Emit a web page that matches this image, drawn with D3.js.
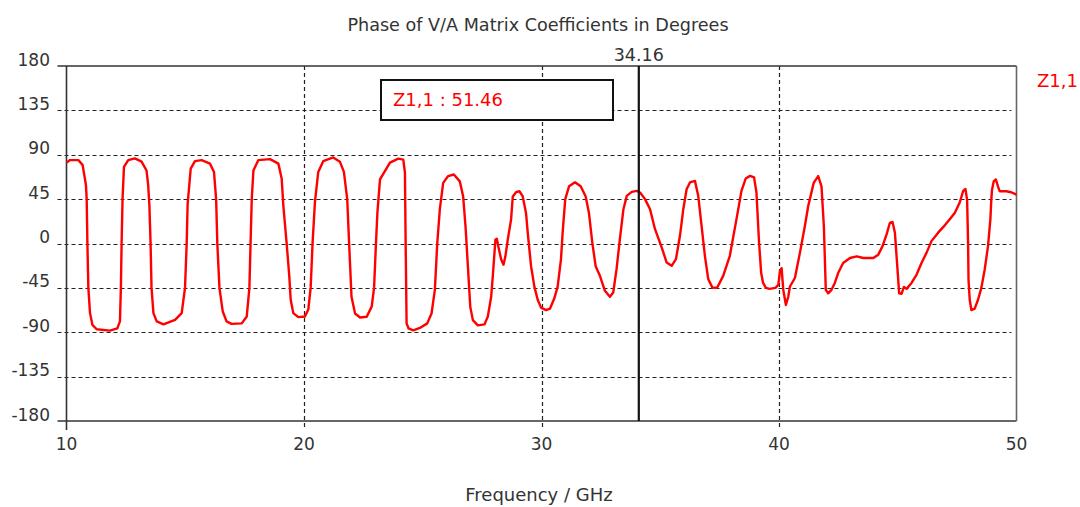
<!DOCTYPE html>
<html>
<head>
<meta charset="utf-8">
<script src="https://cdn.jsdelivr.net/npm/d3@7"></script>
<style>
  body { margin: 0; background: #fff; }
  text { font-family: "DejaVu Sans", Verdana, sans-serif; fill: #333; }
</style>
</head>
<body>
<div class="container"></div>
<script>
// frequency (GHz) and phase (deg) of Z1,1
var freq = [10.0, 10.15, 10.5, 10.68, 10.82, 10.85, 10.88, 10.92, 10.99, 11.09, 11.27, 11.83, 12.14, 12.25, 12.29, 12.32, 12.36, 12.42, 12.6, 12.88, 13.16, 13.37, 13.44, 13.49, 13.54, 13.58, 13.66, 13.8, 14.08, 14.57, 14.85, 14.99, 15.06, 15.1, 15.23, 15.41, 15.69, 16.04, 16.21, 16.3, 16.35, 16.44, 16.58, 16.74, 16.95, 17.38, 17.59, 17.7, 17.75, 17.8, 17.87, 18.08, 18.57, 18.92, 19.06, 19.13, 19.27, 19.38, 19.44, 19.55, 19.76, 20.04, 20.18, 20.28, 20.36, 20.46, 20.6, 20.81, 21.23, 21.51, 21.68, 21.82, 21.9, 22.0, 22.15, 22.36, 22.64, 22.85, 22.95, 23.03, 23.09, 23.2, 23.62, 23.97, 24.18, 24.25, 24.28, 24.32, 24.4, 24.6, 24.88, 25.19, 25.37, 25.51, 25.61, 25.72, 25.86, 26.07, 26.31, 26.56, 26.7, 26.8, 26.9, 27.0, 27.11, 27.32, 27.6, 27.74, 27.88, 27.95, 28.06, 28.12, 28.18, 28.3, 28.4, 28.48, 28.58, 28.72, 28.79, 28.93, 29.07, 29.21, 29.35, 29.42, 29.56, 29.7, 29.84, 29.98, 30.19, 30.36, 30.54, 30.68, 30.82, 30.89, 31.0, 31.16, 31.41, 31.65, 31.86, 32.0, 32.14, 32.28, 32.46, 32.67, 32.88, 33.02, 33.16, 33.3, 33.45, 33.59, 33.8, 34.01, 34.15, 34.36, 34.57, 34.78, 35.06, 35.27, 35.48, 35.66, 35.83, 35.97, 36.11, 36.25, 36.46, 36.6, 36.74, 36.88, 37.02, 37.2, 37.4, 37.65, 37.93, 38.21, 38.42, 38.6, 38.78, 38.95, 39.05, 39.16, 39.25, 39.33, 39.45, 39.6, 39.85, 39.97, 40.04, 40.11, 40.18, 40.29, 40.39, 40.46, 40.67, 40.88, 41.09, 41.23, 41.3, 41.46, 41.65, 41.79, 41.89, 41.97, 42.07, 42.21, 42.35, 42.49, 42.7, 42.99, 43.27, 43.55, 43.97, 44.18, 44.36, 44.53, 44.67, 44.78, 44.88, 44.98, 45.06, 45.16, 45.26, 45.37, 45.58, 45.79, 46.0, 46.21, 46.42, 46.7, 46.98, 47.19, 47.4, 47.61, 47.75, 47.85, 47.92, 47.96, 47.98, 48.03, 48.1, 48.24, 48.38, 48.52, 48.66, 48.8, 48.9, 48.94, 48.97, 49.04, 49.13, 49.22, 49.29, 49.57, 49.78, 50.0];
var phase = [82, 84.6, 84.6, 79.5, 59, 45, 0, -45, -70.6, -82.5, -87, -88.3, -86, -79, -45, 0, 45, 77.7, 84.6, 86.3, 83, 74, 59, 38.5, 0, -45, -70.6, -79, -82, -77.4, -70.6, -45, 0, 40, 76, 83.5, 84.6, 81, 72.6, 45, 0, -45, -69, -79, -81.5, -81, -74, -45, 0, 45, 74, 84.6, 85.6, 81, 65.8, 38.5, 0, -33, -57, -70.6, -74.7, -74, -67, -45, 0, 42, 72.6, 83.5, 87.3, 83, 72.6, 45, 0, -54, -71, -75, -74.3, -64, -45, 0, 31, 65, 82, 86, 85, 72, 0, -81, -86, -88, -85.6, -81, -71, -47, 0, 34.8, 61.5, 68.4, 70, 63, 48, 17.7, -23, -64, -77.7, -83, -82, -74, -54, -33, 4, 4.8, -2.7, -16, -21.5, -13, 4, 24.5, 47.7, 52, 53, 47.7, 30.6, 11, -23, -43.7, -57, -65, -67.5, -66, -55.6, -43.7, -16, 11, 45, 58, 62, 58, 47.7, 30.6, 0.7, -23, -32.8, -48, -54, -49.7, -26, 4.4, 34.8, 48.3, 52.4, 53.4, 51.7, 45, 34.8, 14.5, -4, -19.3, -22.6, -15.9, 7.8, 34.8, 55, 61.9, 63.5, 48.3, 17.9, -12.5, -36, -45, -44.6, -32.8, -12.5, 24.7, 53.4, 66, 68.6, 67, 51.7, 1, -30, -40, -45, -46, -45, -42, -28, -25, -47, -62.4, -54, -43.6, -35, -9.5, 17.7, 38, 45, 61.5, 68.4, 58, 17, -47, -50.5, -47, -40, -30, -19.8, -14.7, -13, -14.7, -14.7, -11.3, -2.7, 9.2, 21, 21.8, 11, -23, -50.5, -51, -44, -46, -40, -31.7, -19.8, -9.5, 2.4, 11, 18.4, 24.5, 31, 41.6, 53, 55.3, 44.3, 3, -37, -57, -67.5, -66, -57, -45, -26.6, -2.7, 24.5, 45, 54.6, 63, 65, 58, 53, 53, 52, 49.5];

var xTicks = [10, 20, 30, 40, 50];
var yTicks = [180, 135, 90, 45, 0, -45, -90, -135, -180];
var seriesName = 'Z1,1';
var cursorFreq = 34.16;
var cursorValue = 51.46;

const WIDTH = 1080;
const HEIGHT = 507;
const LEFT = 66.5, RIGHT = 1016.5, TOP = 66, BOTTOM = 421;

var svg = d3.select('.container').append('svg')
	.attr('width', WIDTH)
	.attr('height', HEIGHT);

var xScale = d3.scaleLinear().domain([10, 50]).range([LEFT, RIGHT]);
var yScale = d3.scaleLinear().domain([-180, 180]).range([BOTTOM, TOP]);

// title
svg.append('text')
	.attr('x', 538).attr('y', 31)
	.attr('text-anchor', 'middle')
	.style('font-size', '17.6px')
	.text('Phase of V/A Matrix Coefficients in Degrees');

// horizontal grid (dashed) with short lead-in on the left
var inner = yTicks.filter(function(d){ return d != 180 && d != -180; });
svg.append('g').selectAll('line').data(inner).enter().append('line')
	.attr('x1', LEFT - 9).attr('x2', RIGHT - 5)
	.attr('y1', function(d){ return Math.round(yScale(d)) + 0.5; })
	.attr('y2', function(d){ return Math.round(yScale(d)) + 0.5; })
	.attr('stroke', '#222').attr('stroke-width', 1.2)
	.attr('stroke-dasharray', '4,3');

// vertical grid, runs a little below the axis as a tick
svg.append('g').selectAll('line').data(xTicks.slice(1, -1)).enter().append('line')
	.attr('x1', function(d){ return Math.round(xScale(d)) + 0.5; })
	.attr('x2', function(d){ return Math.round(xScale(d)) + 0.5; })
	.attr('y1', TOP).attr('y2', BOTTOM + 9)
	.attr('stroke', '#222').attr('stroke-width', 1.2)
	.attr('stroke-dasharray', '4,3');

// frame
svg.append('line').attr('x1', LEFT - 9).attr('x2', RIGHT).attr('y1', TOP).attr('y2', TOP)
	.attr('stroke', '#333').attr('stroke-width', 1.6);
svg.append('line').attr('x1', LEFT - 9).attr('x2', RIGHT).attr('y1', BOTTOM).attr('y2', BOTTOM)
	.attr('stroke', '#333').attr('stroke-width', 1.3);
svg.append('line').attr('x1', LEFT).attr('x2', LEFT).attr('y1', TOP).attr('y2', BOTTOM + 9)
	.attr('stroke', '#333').attr('stroke-width', 1.6);
svg.append('line').attr('x1', RIGHT).attr('x2', RIGHT).attr('y1', TOP).attr('y2', BOTTOM)
	.attr('stroke', '#666').attr('stroke-width', 1.6);

// y labels sit on their grid line
svg.append('g').selectAll('text').data(yTicks).enter().append('text')
	.attr('x', 50)
	.attr('y', function(d){ return yScale(d) - 0.5; })
	.attr('text-anchor', 'end')
	.style('font-size', '17px')
	.text(function(d){ return d; });

// x labels
svg.append('g').selectAll('text').data(xTicks).enter().append('text')
	.attr('x', function(d){ return xScale(d); })
	.attr('y', 450)
	.attr('text-anchor', 'middle')
	.style('font-size', '17px')
	.text(function(d){ return d; });

svg.append('text')
	.attr('x', 539).attr('y', 501)
	.attr('text-anchor', 'middle')
	.style('font-size', '18px')
	.text('Frequency / GHz');

// the curve
var pts = freq.map(function(f, i){ return [f, phase[i]]; });
var line = d3.line()
	.x(function(p){ return xScale(p[0]); })
	.y(function(p){ return yScale(p[1]); });

svg.append('path')
	.attr('d', line(pts))
	.attr('fill', 'none')
	.attr('stroke', '#ff0000')
	.attr('stroke-width', 2.4)
	.attr('stroke-linejoin', 'round');

// cursor
var cx = xScale(cursorFreq) - 1.5;
svg.append('line')
	.attr('x1', cx).attr('x2', cx).attr('y1', TOP).attr('y2', BOTTOM)
	.attr('stroke', '#111').attr('stroke-width', 2.2);
svg.append('text')
	.attr('x', cx).attr('y', 61)
	.attr('text-anchor', 'middle')
	.style('font-size', '17.5px')
	.text(cursorFreq.toFixed(2));

// value box
svg.append('rect')
	.attr('x', 381).attr('y', 80).attr('width', 232).attr('height', 40)
	.attr('fill', '#fff').attr('stroke', '#111').attr('stroke-width', 2);
svg.append('text')
	.attr('x', 393).attr('y', 106)
	.style('font-size', '18px')
	.style('fill', '#ff0000')
	.text(seriesName + ' : ' + cursorValue);

// legend
svg.append('text')
	.attr('x', 1037).attr('y', 87)
	.style('font-size', '18px')
	.style('fill', '#ff0000')
	.text(seriesName);
</script>
</body>
</html>
